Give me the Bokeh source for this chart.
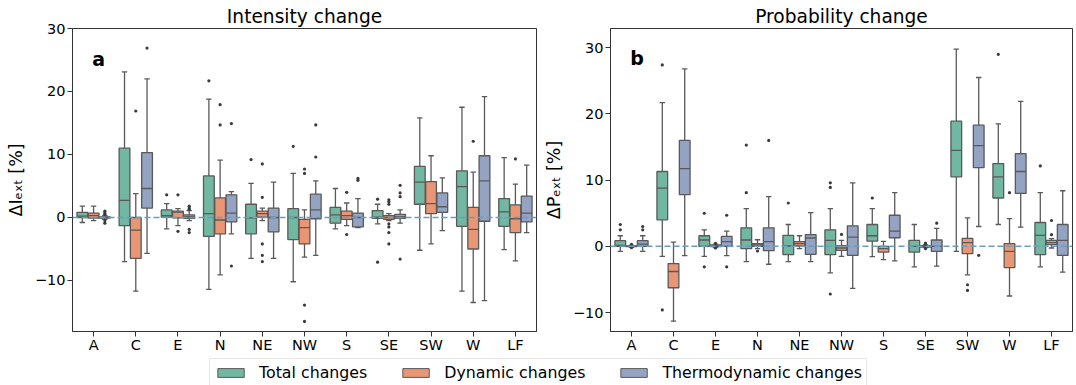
from bokeh.plotting import figure
from bokeh.models import (Range1d, FixedTicker, Span, Label, Legend, LegendItem,
                          ColumnDataSource)
from bokeh.layouts import column, row
from bokeh.embed import file_html
from bokeh.resources import INLINE

cats = ["A", "C", "E", "N", "NE", "NW", "S", "SE", "SW", "W", "LF"]
series_names = ["Total changes", "Dynamic changes", "Thermodynamic changes"]
series_colors = ["#71b7a1", "#e99675", "#95a3c3"]

# ---------------- Panel a: Intensity change (%) ----------------
I_tot_lo = [-0.8, -7.0, -1.8, -11.4, -6.5, -10.2, -1.8, -1.0, -5.2, -11.7, -5.1]
I_tot_q1 = [0.0, -1.3, 0.05, -3.0, -2.6, -3.5, -0.9, -0.15, 2.1, -1.4, -1.4]
I_tot_med = [0.2, 2.7, 0.3, 0.6, -0.05, 0.0, 0.4, 0.05, 5.6, 4.9, 0.9]
I_tot_q3 = [0.8, 11.0, 1.2, 6.6, 2.1, 1.4, 1.6, 1.1, 8.1, 7.4, 3.0]
I_tot_hi = [1.8, 23.1, 2.2, 18.8, 5.4, 7.0, 4.6, 2.1, 15.8, 17.5, 9.5]
I_tot_out = [[], [], [3.6], [21.7], [9.2], [11.3], [], [2.9, -7.1], [], [], []]

I_dyn_lo = [-0.5, -11.7, -1.3, -9.1, -0.5, -6.3, -1.3, -0.5, -4.2, -13.5, -6.9]
I_dyn_q1 = [-0.1, -6.5, -0.05, -2.6, 0.05, -4.2, -0.3, -0.3, 0.6, -5.0, -2.4]
I_dyn_med = [0.3, -2.0, 0.85, -0.4, 0.6, -1.6, 0.3, 0.0, 2.2, -1.9, -0.2]
I_dyn_q3 = [0.7, 0.0, 1.0, 3.1, 1.0, -0.3, 1.0, 0.3, 5.7, 1.6, 2.0]
I_dyn_hi = [1.8, 3.8, 1.4, 9.1, 1.5, 1.2, 2.3, 0.6, 9.8, 7.2, 5.3]
I_dyn_out = [[], [16.9], [3.6, -2.2], [17.9, 14.7], [8.5, 3.2, -4.2, -6.0, -7.0],
             [7.7, 7.0, -13.9, -16.5], [4.0, -2.7], [2.8, 2.5, 2.1, -1.0, -1.5, -2.4, -4.2],
             [], [12.1], [9.3]]

I_thm_lo = [-0.3, -5.7, -0.5, -2.6, -6.5, -6.0, -1.6, -0.9, -2.1, -13.2, -2.4]
I_thm_q1 = [-0.1, 1.5, -0.15, -0.7, -2.3, -0.2, -1.5, -0.15, 0.8, -0.6, -0.7]
I_thm_med = [0.0, 4.6, 0.15, 0.7, 0.0, 1.2, 0.0, 0.15, 1.7, 5.8, 0.7]
I_thm_q3 = [0.1, 10.3, 0.4, 3.6, 1.5, 3.7, 0.7, 0.5, 3.9, 9.8, 3.4]
I_thm_hi = [0.3, 22.0, 1.1, 4.1, 5.6, 5.8, 3.0, 1.2, 6.3, 19.2, 8.3]
I_thm_out = [[1.0, 0.7, 0.5, -0.5, -0.9], [26.9], [1.8, 1.5, 1.3, -1.9, -2.4],
             [14.9, -7.7], [], [14.7, 9.6], [6.2, 5.9], [5.1, 3.9, 3.3, -6.6], [], [], []]

# ---------------- Panel b: Probability change (%) ----------------
P_tot_lo = [-0.76, -1.5, -1.5, -2.3, -2.3, -4.0, -1.56, -3.1, -0.76, 3.3, -3.1]
P_tot_q1 = [0.0, 4.0, 0.0, -0.35, -1.26, -1.26, 0.8, -0.86, 10.5, 7.3, -1.26]
P_tot_med = [0.15, 8.8, 0.96, 0.96, 0.05, 0.9, 1.6, 0.0, 14.5, 10.5, 1.66]
P_tot_q3 = [0.86, 11.3, 1.6, 2.8, 1.66, 2.5, 3.3, 0.9, 18.9, 12.5, 3.6]
P_tot_hi = [1.6, 21.7, 2.5, 5.7, 3.3, 5.7, 5.7, 3.3, 29.8, 18.5, 8.1]
P_tot_out = [[3.3, 2.5], [27.4, -9.6], [5.0, -3.1], [8.1, 15.3], [6.55],
             [9.6, 8.9, -7.2], [7.3], [], [], [29.0], [12.15]]

P_dyn_lo = [-0.15, -11.3, -0.2, -0.35, -0.35, -1.5, -2.0, -0.2, -4.3, -7.5, -0.25]
P_dyn_q1 = [-0.05, -6.25, -0.05, 0.0, 0.05, -0.6, -0.86, -0.1, -1.1, -3.2, 0.25]
P_dyn_med = [0.0, -3.8, 0.1, 0.2, 0.4, -0.25, -0.35, 0.0, 0.55, -0.76, 0.55]
P_dyn_q3 = [0.05, -2.6, 0.2, 0.4, 0.7, 0.1, 0.0, 0.1, 1.2, 0.4, 0.9]
P_dyn_hi = [0.15, 0.65, 0.35, 1.0, 1.6, 0.9, 0.75, 0.2, 4.3, 4.2, 1.16]
P_dyn_out = [[0.3, -0.2], [], [0.45, -0.25], [-0.7], [], [1.8], [], [0.5, 0.3, -0.35],
             [-5.8, -6.65], [8.1], [3.9, 1.76]]

P_thm_lo = [-0.76, -1.4, -1.4, -2.7, -2.3, -6.35, -2.2, -3.0, 3.0, 2.9, -3.9]
P_thm_q1 = [0.0, 7.8, 0.0, -0.66, -1.2, -1.36, 1.3, -0.76, 11.9, 8.0, -1.36]
P_thm_med = [0.35, 11.75, 0.7, 0.7, 1.26, 1.4, 2.3, 0.0, 15.2, 11.3, 0.9]
P_thm_q3 = [0.86, 16.0, 1.5, 2.8, 1.76, 3.1, 4.7, 0.96, 18.3, 14.0, 3.3]
P_thm_hi = [1.6, 26.8, 2.3, 7.5, 5.1, 9.6, 8.1, 2.7, 25.5, 21.9, 8.4]
P_thm_out = [[3.0, 2.5], [], [4.7, -3.1], [16.0], [], [], [], [3.5], [-1.36], [], []]

y_ticks = [-10, 0, 10, 20, 30]

LINE = "#595959"
FONT = "DejaVu Sans"
BW = 0.255
OFFS = [-0.267, 0.0, 0.267]


def make_panel(title, ylabel, y0, y1, stats, letter, letter_y, width, left_b):
    p = figure(width=width, height=358, x_range=Range1d(-0.5, 10.5),
               y_range=Range1d(y0, y1), output_backend="svg",
               toolbar_location=None, min_border_left=left_b, min_border_right=4,
               min_border_top=28, min_border_bottom=27)
    p.title.text = title
    p.title.align = "center"
    p.title.text_font = FONT
    p.title.text_font_size = "18.6px"
    p.title.text_font_style = "normal"
    p.title.text_color = "#000000"
    p.title.standoff = 4
    p.xgrid.visible = False
    p.ygrid.visible = False
    p.outline_line_color = "#333333"
    p.outline_line_width = 1

    for ax in (p.xaxis[0], p.yaxis[0]):
        ax.axis_line_color = "#333333"
        ax.major_tick_line_color = "#333333"
        ax.major_tick_out = 5
        ax.major_tick_in = 0
        ax.minor_tick_line_color = None
        ax.major_label_text_font = FONT
        ax.major_label_text_font_size = "14.5px"
        ax.major_label_text_color = "#000000"
        ax.major_label_standoff = 2
    p.xaxis.major_label_standoff = 0
    p.xaxis.ticker = FixedTicker(ticks=list(range(len(cats))))
    p.xaxis.major_label_overrides = {i: c for i, c in enumerate(cats)}
    p.yaxis.ticker = FixedTicker(ticks=y_ticks)
    p.yaxis.major_label_overrides = {t: (str(t).replace("-", "\u2212")) for t in y_ticks}
    p.yaxis.axis_label = ylabel
    p.yaxis.axis_label_text_font = FONT
    p.yaxis.axis_label_text_font_size = "17.5px"
    p.yaxis.axis_label_text_font_style = "normal"
    p.yaxis.axis_label_text_color = "#000000"
    p.yaxis.axis_label_standoff = 6

    for k, (lo, q1, med, q3, hi, out) in enumerate(stats):
        xs = [i + OFFS[k] for i in range(len(cats))]
        src = ColumnDataSource(dict(x=xs, lo=lo, q1=q1, med=med, q3=q3, hi=hi,
                                    xl=[x - BW / 2 for x in xs], xr=[x + BW / 2 for x in xs],
                                    cl=[x - BW / 4 for x in xs], cr=[x + BW / 4 for x in xs]))
        p.segment(x0="x", y0="q3", x1="x", y1="hi", source=src, line_color=LINE, line_width=1.3)
        p.segment(x0="x", y0="q1", x1="x", y1="lo", source=src, line_color=LINE, line_width=1.3)
        p.segment(x0="cl", y0="hi", x1="cr", y1="hi", source=src, line_color=LINE, line_width=1.3)
        p.segment(x0="cl", y0="lo", x1="cr", y1="lo", source=src, line_color=LINE, line_width=1.3)
        p.vbar(x="x", width=BW, bottom="q1", top="q3", source=src,
               fill_color=series_colors[k], line_color=LINE, line_width=1.3)
        p.segment(x0="xl", y0="med", x1="xr", y1="med", source=src, line_color=LINE, line_width=1.3)
        ox, oy = [], []
        for i, vals in enumerate(out):
            for v in vals:
                ox.append(xs[i])
                oy.append(v)
        p.scatter(ox, oy, size=3.2, marker="circle", fill_color="#3a3a3a", line_color=None)

    p.add_layout(Span(location=0, dimension="width", line_color="#62a0cb",
                      line_dash="6 3", line_width=1.5))
    p.add_layout(Label(x=-0.03, y=letter_y, text=letter, text_font=FONT,
                       text_font_size="19px", text_font_style="bold",
                       text_color="#000000", text_baseline="alphabetic"))
    return p


stats_I = [
    (I_tot_lo, I_tot_q1, I_tot_med, I_tot_q3, I_tot_hi, I_tot_out),
    (I_dyn_lo, I_dyn_q1, I_dyn_med, I_dyn_q3, I_dyn_hi, I_dyn_out),
    (I_thm_lo, I_thm_q1, I_thm_med, I_thm_q3, I_thm_hi, I_thm_out),
]
stats_P = [
    (P_tot_lo, P_tot_q1, P_tot_med, P_tot_q3, P_tot_hi, P_tot_out),
    (P_dyn_lo, P_dyn_q1, P_dyn_med, P_dyn_q3, P_dyn_hi, P_dyn_out),
    (P_thm_lo, P_thm_q1, P_thm_med, P_thm_q3, P_thm_hi, P_thm_out),
]

p1 = make_panel("Intensity change", "\u0394I\u2091\u2093\u209c [%]", -18.1, 30.0,
                stats_I, "a", 25.2, 540, 72)
p2 = make_panel("Probability change", "\u0394P\u2091\u2093\u209c [%]", -12.86, 32.9,
                stats_P, "b", 28.4, 536, 69)

# legend strip
p3 = figure(width=1076, height=27, x_range=Range1d(0, 1), y_range=Range1d(0, 1),
            output_backend="svg", toolbar_location=None,
            min_border=0, x_axis_location=None, y_axis_location=None)
p3.xgrid.visible = False
p3.ygrid.visible = False
p3.outline_line_color = None
items = []
for name, col in zip(series_names, series_colors):
    r = p3.vbar(x=[-5.0], width=0.1, top=[-5.0], bottom=[-6.0], fill_color=col,
                line_color=LINE, line_width=1.0)
    items.append(LegendItem(label=name, renderers=[r]))
leg = Legend(items=items, orientation="horizontal", location="top_center",
             margin=0, padding=4, spacing=32, label_standoff=12,
             glyph_width=33, glyph_height=11,
             label_text_font=FONT, label_text_font_size="15.8px",
             label_text_color="#000000",
             border_line_color="#d0d0d0", border_line_width=1,
             background_fill_color="#ffffff")
p3.add_layout(leg)

layout = column(row(p1, p2), p3)
open("out.html", "w").write(file_html(layout, INLINE))
